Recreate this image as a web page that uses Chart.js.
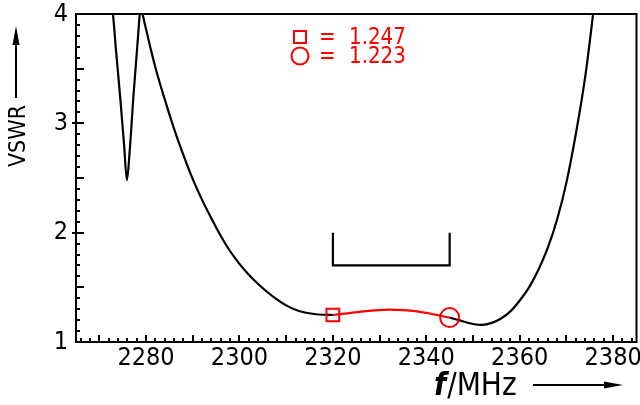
<!DOCTYPE html>
<html>
<head>
<meta charset="utf-8">
<script src="https://cdn.jsdelivr.net/npm/chart.js@4.4.1/dist/chart.umd.min.js"></script>
<style>
  html, body { margin: 0; padding: 0; background: #fff; overflow: hidden; }
  #wrap { width: 640px; height: 405px; overflow: hidden; }
</style>
</head>
<body>
<div id="wrap"><canvas id="vswrChart" width="648" height="405"></canvas></div>
<script>
// Frequency axis (MHz) and VSWR readings
const xTicks = [2280, 2300, 2320, 2340, 2360, 2380];
const yTicks = [1, 2, 3, 4];

// black curve, lower band edge
const freqLeft = [2272.0, 2272.9, 2273.5, 2274.5, 2275.3, 2275.9, 2276.5, 2277.3, 2278.2, 2278.9, 2279.3,
    2280, 2281, 2282, 2283, 2284, 2286, 2288, 2290, 2292, 2294, 2296, 2298, 2300, 2302, 2304, 2306, 2308,
    2310, 2312, 2314, 2316, 2318, 2320];
const vswrLeft = [4.15, 4.0, 3.70, 3.22, 2.80, 2.48, 2.75, 3.25, 3.75, 4.06, 3.99,
    3.86, 3.68, 3.51, 3.36, 3.22, 2.95, 2.71, 2.49, 2.30, 2.13, 1.97, 1.83, 1.715, 1.615, 1.53, 1.455, 1.39,
    1.335, 1.295, 1.27, 1.256, 1.249, 1.247];

// red curve, operating band
const freqBand = [2320, 2323, 2326, 2329, 2332, 2335, 2338, 2341, 2343, 2345];
const vswrBand = [1.247, 1.262, 1.278, 1.290, 1.296, 1.292, 1.280, 1.258, 1.240, 1.223];

// black curve, upper band edge
const freqRight = [2345, 2347, 2349, 2351, 2352, 2354, 2356, 2358, 2360, 2362, 2364, 2366, 2368,
    2370, 2372, 2374, 2375.7, 2376.6];
const vswrRight = [1.223, 1.20, 1.175, 1.158, 1.157, 1.175, 1.215, 1.28, 1.38, 1.50, 1.66, 1.86, 2.12,
    2.46, 2.90, 3.42, 4.0, 4.35];

// band bracket (2320..2345 MHz) and marker points
const bracketFreq = [2320, 2320, 2345, 2345];
const bracketVswr = [2.0, 1.70, 1.70, 2.0];
const markerFreq = [2320, 2345];
const markerVswr = [1.247, 1.223];
const markerText = ['1.247', '1.223'];

const RED = '#ff0000';
const FONT = "'Liberation Sans Narrow', 'DejaVu Sans Condensed', 'Liberation Sans', sans-serif";

function toPoints(xs, ys) {
    return xs.map((x, i) => ({ x: x, y: ys[i] }));
}

// pick a font size so the text covers the wanted width
function fitFont(ctx, text, width, style) {
    ctx.font = style + '20px ' + FONT;
    const size = 20 * width / ctx.measureText(text).width;
    ctx.font = style + size.toFixed(1) + 'px ' + FONT;
}

// inward ticks, x labels, frame, axis titles and the little value legend
const decorPlugin = {
    id: 'decor',
    afterDraw(chart) {
        const ctx = chart.ctx;
        const a = chart.chartArea;
        const xs = chart.scales.x;
        const ys = chart.scales.y;
        ctx.save();
        ctx.strokeStyle = '#000';
        ctx.lineWidth = 2;
        ctx.strokeRect(a.left, a.top, a.right - a.left, a.bottom - a.top);

        ctx.beginPath();
        for (let v = 2266; v <= 2384; v += 2) {
            const px = Math.round(xs.getPixelForValue(v));
            const len = v % 10 === 0 ? 7 : 4;
            ctx.moveTo(px, a.bottom);
            ctx.lineTo(px, a.bottom - len);
        }
        for (let k = 11; k <= 39; k++) {
            const py = Math.round(ys.getPixelForValue(k / 10));
            const len = k % 5 === 0 ? 8 : 4;
            ctx.moveTo(a.left, py);
            ctx.lineTo(a.left + len, py);
            if (k % 10 === 0) {
                ctx.moveTo(a.left - 4, py);
                ctx.lineTo(a.left, py);
            }
        }
        ctx.stroke();

        // x tick labels
        ctx.fillStyle = '#000';
        ctx.font = '25px ' + FONT;
        ctx.textAlign = 'center';
        ctx.textBaseline = 'top';
        xTicks.forEach(v => {
            ctx.fillText(String(v), xs.getPixelForValue(v), a.bottom + 4);
        });

        // y title with arrow
        ctx.save();
        ctx.translate(25, 136);
        ctx.rotate(-Math.PI / 2);
        ctx.textAlign = 'center';
        ctx.textBaseline = 'alphabetic';
        fitFont(ctx, 'VSWR', 62, '');
        ctx.fillText('VSWR', 0, 0);
        ctx.restore();
        ctx.beginPath();
        ctx.moveTo(16, 98);
        ctx.lineTo(16, 40);
        ctx.stroke();
        ctx.beginPath();
        ctx.moveTo(16, 26);
        ctx.lineTo(12.5, 45);
        ctx.lineTo(19.5, 45);
        ctx.closePath();
        ctx.fill();

        // x title with arrow
        ctx.textAlign = 'left';
        ctx.textBaseline = 'alphabetic';
        fitFont(ctx, 'MHz', 60, '');
        const mainFont = ctx.font;
        ctx.font = 'italic bold ' + mainFont;
        ctx.fillText('f', 434, 395);
        const fw = ctx.measureText('f').width;
        ctx.font = mainFont;
        ctx.fillText('/MHz', 434 + fw + 1, 395);
        ctx.beginPath();
        ctx.moveTo(533, 385);
        ctx.lineTo(608, 385);
        ctx.stroke();
        ctx.beginPath();
        ctx.moveTo(623, 385);
        ctx.lineTo(604, 381.5);
        ctx.lineTo(604, 388.5);
        ctx.closePath();
        ctx.fill();

        // marker legend
        ctx.strokeStyle = RED;
        ctx.fillStyle = RED;
        ctx.strokeRect(294, 31, 12, 12);
        ctx.beginPath();
        ctx.arc(300, 56, 8.5, 0, Math.PI * 2);
        ctx.stroke();
        ctx.textBaseline = 'middle';
        fitFont(ctx, markerText[0], 57, '');
        ctx.fillText('=', 319, 38);
        ctx.fillText(markerText[0], 349, 38);
        ctx.fillText('=', 319, 57);
        ctx.fillText(markerText[1], 349, 57);
        ctx.restore();
    }
};

new Chart(document.getElementById('vswrChart'), {
    type: 'line',
    data: {
        datasets: [
            {
                data: [{ x: markerFreq[0], y: markerVswr[0] }],
                showLine: false,
                pointStyle: 'rect',
                pointRadius: 9,
                pointBorderWidth: 2,
                pointBorderColor: RED,
                pointBackgroundColor: 'rgba(0,0,0,0)',
                order: -1
            },
            {
                data: [{ x: markerFreq[1], y: markerVswr[1] }],
                showLine: false,
                pointStyle: 'circle',
                pointRadius: 9.5,
                pointBorderWidth: 2,
                pointBorderColor: RED,
                pointBackgroundColor: 'rgba(0,0,0,0)',
                order: -1
            },
            {
                data: toPoints(freqBand, vswrBand),
                borderColor: RED,
                borderWidth: 2.2,
                cubicInterpolationMode: 'monotone',
                pointRadius: 0,
                order: 0
            },
            {
                data: toPoints(freqLeft, vswrLeft),
                borderColor: '#000',
                borderWidth: 2.2,
                cubicInterpolationMode: 'monotone',
                pointRadius: 0,
                order: 1
            },
            {
                data: toPoints(freqRight, vswrRight),
                borderColor: '#000',
                borderWidth: 2.2,
                cubicInterpolationMode: 'monotone',
                pointRadius: 0,
                order: 1
            },
            {
                data: toPoints(bracketFreq, bracketVswr),
                borderColor: '#000',
                borderWidth: 2.2,
                tension: 0,
                pointRadius: 0,
                order: 1
            }
        ]
    },
    options: {
        responsive: false,
        animation: false,
        layout: { padding: { top: 14, right: 4, left: 0, bottom: 0 } },
        plugins: {
            legend: { display: false },
            tooltip: { enabled: false }
        },
        scales: {
            x: {
                type: 'linear',
                min: 2265,
                max: 2385,
                grid: { display: false, drawTicks: false },
                border: { display: false },
                ticks: { display: false },
                afterFit: (scale) => { scale.height = 63; }
            },
            y: {
                type: 'linear',
                min: 1,
                max: 4,
                grid: { display: false, drawTicks: false },
                border: { display: false },
                afterBuildTicks: (scale) => { scale.ticks = yTicks.map(v => ({ value: v })); },
                afterFit: (scale) => {
                    scale.width = 76;
                    scale.paddingTop = 0;
                    scale.paddingBottom = 0;
                },
                ticks: {
                    color: '#000',
                    padding: 8,
                    font: { family: FONT, size: 25 },
                    callback: (v) => String(v)
                }
            }
        }
    },
    plugins: [decorPlugin]
});
</script>
</body>
</html>
